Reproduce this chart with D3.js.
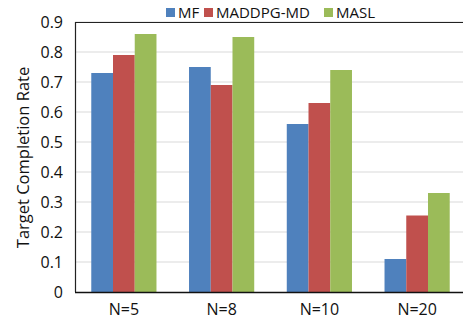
<!DOCTYPE html>
<html><head><meta charset="utf-8">
<script src="https://cdn.jsdelivr.net/npm/d3@7"></script>
<style>body{margin:0;background:#fff}svg{display:block;font-family:"Open Sans",sans-serif}</style>
</head><body>
<svg id="c" width="463" height="322"></svg>
<script>
const categories = ["N=5","N=8","N=10","N=20"];
const seriesNames = ["MF","MADDPG-MD","MASL"];
const MF = [0.73,0.75,0.56,0.11];
const MADDPG_MD = [0.79,0.69,0.63,0.255];
const MASL = [0.86,0.85,0.74,0.33];
const yTicks = [0,0.1,0.2,0.3,0.4,0.5,0.6,0.7,0.8,0.9];
const colors = ["#4F81BD","#C0504D","#9BBB59"];
const seriesVals = [MF, MADDPG_MD, MASL];

const svg = d3.select("#c");
const L=75, R=466, T=22, B=292;
const x = d3.scaleBand().domain(categories).range([L,R]).paddingInner(0.333).paddingOuter(0.1665);
const xs = d3.scaleBand().domain(seriesNames).range([0,x.bandwidth()]);
const y = d3.scaleLinear().domain([0,0.9]).range([B,T]);

// gridlines
svg.append("g").selectAll("line").data(yTicks.slice(1)).join("line")
  .attr("x1",L).attr("x2",R).attr("y1",d=>y(d)).attr("y2",d=>y(d))
  .attr("stroke","#d9d9d9").attr("stroke-width",1.2);

// bars
seriesNames.forEach((s,i)=>{
  svg.append("g").selectAll("rect").data(categories).join("rect")
    .attr("x",c=>x(c)+xs(s)).attr("width",xs.bandwidth())
    .attr("y",(c,j)=>y(seriesVals[i][j])).attr("height",(c,j)=>B-y(seriesVals[i][j]))
    .attr("fill",colors[i]);
});

// frame
svg.append("line").attr("x1",L).attr("x2",R).attr("y1",T+0.5).attr("y2",T+0.5).attr("stroke","#222").attr("stroke-width",1.2);
svg.append("line").attr("x1",L+0.5).attr("x2",L+0.5).attr("y1",T).attr("y2",B).attr("stroke","#222").attr("stroke-width",1.2);
svg.append("line").attr("x1",L).attr("x2",R).attr("y1",B+0.5).attr("y2",B+0.5).attr("stroke","#111").attr("stroke-width",1.5);

// y axis
const ya = d3.axisLeft(y).tickValues(yTicks).tickFormat(d=>d===0?"0":d3.format(".1f")(d)).tickSize(0).tickPadding(12);
const gy = svg.append("g").attr("transform",`translate(${L},0)`).call(ya);
gy.select(".domain").remove();
gy.selectAll("text").attr("font-size",16).attr("fill","#111").attr("font-family","Open Sans");

// x axis
const xa = d3.axisBottom(x).tickSize(0).tickPadding(12);
const gx = svg.append("g").attr("transform",`translate(0,${B})`).call(xa);
gx.select(".domain").remove();
gx.selectAll("text").attr("font-size",16).attr("fill","#111").attr("font-family","Open Sans");

// y title
svg.append("text").attr("transform","translate(29,157.5) rotate(-90)")
  .attr("text-anchor","middle").attr("font-size",16.5).attr("fill","#111").text("Target Completion Rate");

// legend
const legX = [166,204,324];
seriesNames.forEach((s,i)=>{
  svg.append("rect").attr("x",legX[i]).attr("y",8).attr("width",9).attr("height",9).attr("fill",colors[i]);
  svg.append("text").attr("x",legX[i]+12).attr("y",17.5).attr("font-size",15).attr("fill","#111").text(s);
});
</script>
</body></html>
